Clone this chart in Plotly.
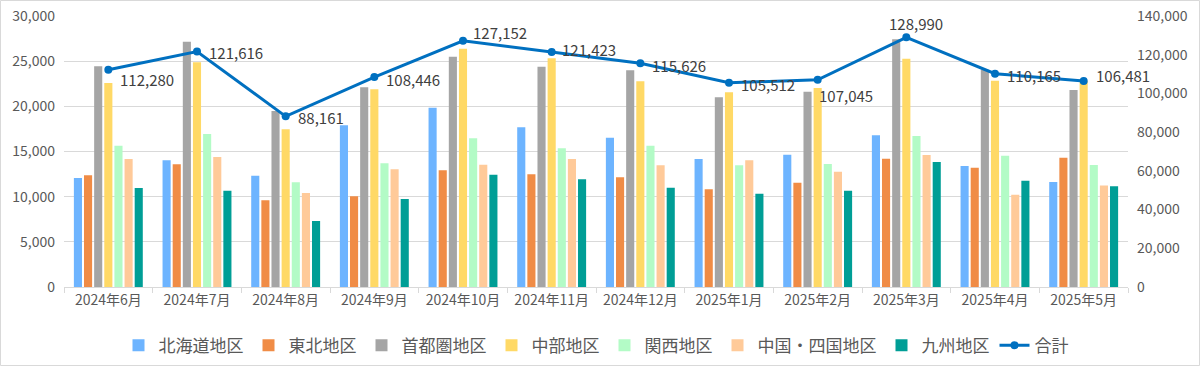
import plotly.graph_objects as go

months = ["2024年6月", "2024年7月", "2024年8月", "2024年9月", "2024年10月", "2024年11月",
          "2024年12月", "2025年1月", "2025年2月", "2025年3月", "2025年4月", "2025年5月"]

hokkaido = [12070, 14020, 12320, 17900, 19850, 17680, 16530, 14170, 14650, 16790, 13390, 11620]
tohoku   = [12360, 13580, 9590, 10040, 12920, 12470, 12140, 10810, 11550, 14210, 13210, 14320]
shutoken = [24430, 27160, 19480, 22100, 25500, 24390, 23990, 21000, 21620, 27420, 24060, 21810]
chubu    = [22580, 24870, 17450, 21880, 26380, 25310, 22770, 21550, 22030, 25280, 22840, 22840]
kansai   = [15650, 16940, 11590, 13690, 16460, 15350, 15650, 13470, 13620, 16720, 14540, 13510]
chugoku  = [14170, 14390, 10410, 13030, 13540, 14170, 13470, 14020, 12770, 14610, 10220, 11250]
kyushu   = [10960, 10660, 7310, 9740, 12440, 11920, 11000, 10330, 10660, 13840, 11770, 11140]
total    = [112280, 121616, 88161, 108446, 127152, 121423, 115626, 105512, 107045, 128990, 110165, 106481]

series_names = ["北海道地区", "東北地区", "首都圏地区", "中部地区", "関西地区", "中国・四国地区", "九州地区"]
series_vals = [hokkaido, tohoku, shutoken, chubu, kansai, chugoku, kyushu]
colors = ["#6DB4FF", "#F08C46", "#A5A5A5", "#FFD966", "#B3FBC6", "#FFCA99", "#009E96"]

FONT = "Noto Sans CJK JP"
fig = go.Figure()
for name, vals, c in zip(series_names, series_vals, colors):
    fig.add_trace(go.Bar(x=months, y=vals, name=name, marker=dict(color=c, line=dict(width=0)),
                         yaxis="y"))

fig.add_trace(go.Scatter(x=months, y=total, name="合計", mode="lines+markers", yaxis="y2",
                         line=dict(color="#0070C0", width=3),
                         marker=dict(color="#0070C0", size=8)))

# label offsets (style): xshift, yshift, xanchor
offsets = [(10, -10, "left"), (10, -1, "left"), (10, -1, "left"), (10, -2, "left"),
           (8, 8, "left"), (8, 2, "left"), (10, -2, "left"), (10, -2, "left"),
           (-1, -16, "left"), (10, 14, "center"), (10, -2, "left"), (10, 5, "left")]
for m, t, (xs, ys, xa) in zip(months, total, offsets):
    fig.add_annotation(x=m, y=t, xref="x", yref="y2", text=f"{t:,}", showarrow=False,
                       xanchor=xa, yanchor="middle", xshift=xs, yshift=ys,
                       font=dict(family=FONT, size=15, color="#404040"))

fig.update_layout(
    width=1200, height=366,
    margin=dict(l=64, r=72, t=16, b=79, autoexpand=False),
    paper_bgcolor="white", plot_bgcolor="white",
    barmode="group", bargap=0.2, bargroupgap=0.2,
    font=dict(family=FONT, size=14, color="#595959"),
    showlegend=True,
    legend=dict(orientation="h", x=0.5, xanchor="center", y=-0.15, yanchor="top",
                bgcolor="rgba(0,0,0,0)",
                font=dict(family=FONT, size=17, color="#595959"), itemwidth=30),
    xaxis=dict(type="category", range=[-0.5, len(months) - 0.5], showline=True,
               linecolor="#D9D9D9", linewidth=1,
               ticks="outside", tickson="boundaries", ticklen=5, tickcolor="#D9D9D9",
               tickfont=dict(size=14, color="#595959"), showgrid=False, automargin=False),
    yaxis=dict(range=[0, 30000], dtick=5000, tickformat=",", showgrid=True,
               gridcolor="#D9D9D9", gridwidth=1, zeroline=False, showline=False,
               tickfont=dict(size=14, color="#595959"), ticks="", ticklabelstandoff=8,
               automargin=False),
    yaxis2=dict(range=[0, 140000], dtick=20000, tickformat=",", overlaying="y", side="right",
                showgrid=False, zeroline=False, showline=False,
                tickfont=dict(size=14, color="#595959"), ticklabelstandoff=8,
                automargin=False),
    shapes=[dict(type="rect", xref="paper", yref="paper", x0=-63.5/1064, x1=1+71.5/1064,
                 y0=-78.5/271, y1=1+15.5/271, line=dict(color="#D9D9D9", width=1),
                 fillcolor="rgba(0,0,0,0)", layer="below")],
)

fig.write_html("out.html", config={"displayModeBar": False},
               post_script="document.body.style.margin='0';document.body.style.overflow='hidden';")
